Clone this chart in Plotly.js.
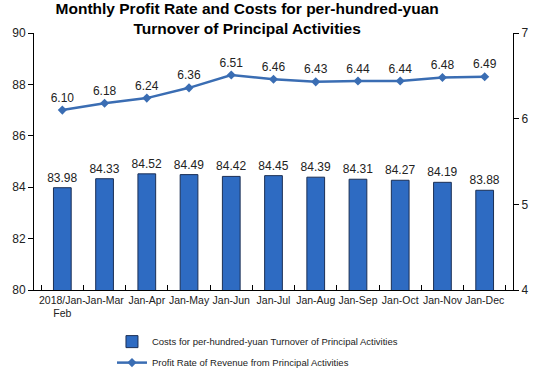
<!DOCTYPE html>
<html><head><meta charset="utf-8">
<script src="https://cdn.plot.ly/plotly-3.0.1.min.js"></script>
<style>html,body{margin:0;padding:0;background:#fff}#c{width:542px;height:376px}</style>
</head><body><div id="c"></div>
<script>
const categories = ['2018/Jan-<br>Feb','Jan-Mar','Jan-Apr','Jan-May','Jan-Jun','Jan-Jul','Jan-Aug','Jan-Sep','Jan-Oct','Jan-Nov','Jan-Dec'];
const costs = [83.98,84.33,84.52,84.49,84.42,84.45,84.39,84.31,84.27,84.19,83.88];
const profitRate = [6.10,6.18,6.24,6.36,6.51,6.46,6.43,6.44,6.44,6.48,6.49];

const fontFam = 'Liberation Sans, Arial, sans-serif';
const traces = [
  {type:'bar', x:categories, y:costs, name:'Costs for per-hundred-yuan Turnover of Principal Activities',
   marker:{color:'#2E6BC2', line:{color:'#1B2F55', width:1}}, width:0.42,
   text:costs.map(v=>v.toFixed(2)), textposition:'outside', cliponaxis:false, constraintext:'none',
   textfont:{family:fontFam, size:12, color:'#222'}, outsidetextfont:{family:fontFam, size:12, color:'#222'},
   legendgroup:'a'},
  {type:'scatter', mode:'lines+markers+text', x:categories, y:profitRate, yaxis:'y2',
   name:'Profit Rate of Revenue from Principal Activities',
   line:{color:'#3A6DB3', width:2.5}, marker:{symbol:'diamond', size:7, color:'#3A6DB3'},
   text:profitRate.map(v=>v.toFixed(2)), textposition:'top center', cliponaxis:false,
   textfont:{family:fontFam, size:12, color:'#222'}, legendgroup:'b'}
];
const layout = {
  width:542, height:376, margin:{l:34, r:29, t:33, b:86, autoexpand:false},
  paper_bgcolor:'#fff', plot_bgcolor:'#fff',
  font:{family:fontFam, size:12, color:'#222'},
  title:{text:'<b>Monthly Profit Rate and Costs for per-hundred-yuan<br>Turnover of Principal Activities</b>',
    x:0.456, xref:'container', xanchor:'center', y:0.963, yref:'container', yanchor:'middle',
    font:{family:fontFam, size:15.5, color:'#000'}},
  xaxis:{type:'category', showline:true, linecolor:'#000', linewidth:1, ticks:'inside', tickson:'boundaries',
    ticklen:5, tickcolor:'#000', showgrid:false, tickfont:{size:10.5}, tickangle:0},
  yaxis:{range:[80,90], dtick:2, showline:true, linecolor:'#000', linewidth:1, ticks:'outside', ticklen:5,
    tickcolor:'#000', showgrid:false, zeroline:false, tickfont:{size:12}},
  yaxis2:{range:[4,7], dtick:1, overlaying:'y', side:'right', showline:true, linecolor:'#000', linewidth:1,
    ticks:'outside', ticklen:5, tickcolor:'#000', showgrid:false, zeroline:false, tickfont:{size:12}},
  showlegend:true,
  legend:{orientation:'v', xref:'container', yref:'container', x:0.2066, xanchor:'left', y:0.13, yanchor:'top',
    traceorder:'grouped', tracegroupgap:2, font:{size:9.5, color:'#222'}, bgcolor:'rgba(0,0,0,0)'},
  bargap:0.58
};
Plotly.newPlot('c', traces, layout, {displayModeBar:false, staticPlot:true});
</script></body></html>
